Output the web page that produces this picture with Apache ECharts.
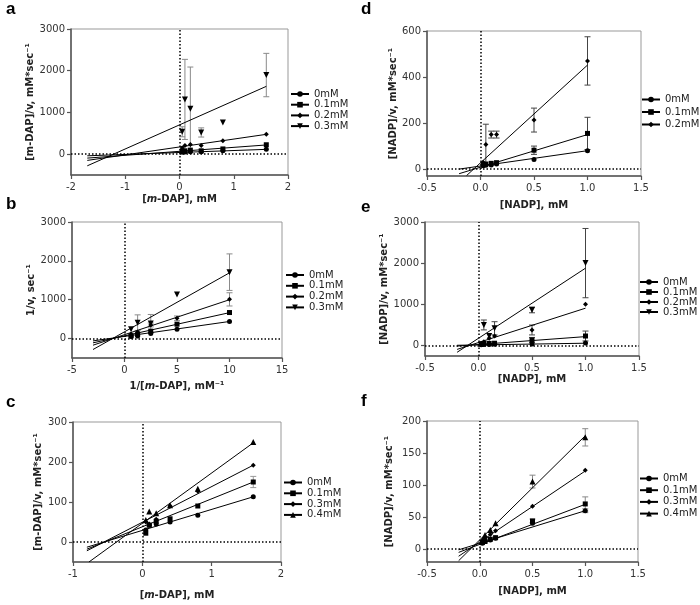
<!DOCTYPE html>
<html>
<head>
<meta charset="utf-8">
<script src="https://cdn.jsdelivr.net/npm/echarts@6/dist/echarts.min.js"></script>
<style>
  html, body { margin: 0; padding: 0; background: #fff; }
  #main { width: 700px; height: 605px; }
</style>
</head>
<body>
<div id="main"></div>
<script>
// substrate concentrations (x values)
const dapX = [0.05, 0.1, 0.2, 0.4, 0.8, 1.6]
const invDapX = [0.625, 1.25, 2.5, 5, 10]
const nadpX = [0.025, 0.05, 0.1, 0.15, 0.5, 1.0]

// tick labels
const dapTicks = [-2, -1, 0, 1, 2]
const invDapTicks = [-5, 0, 5, 10, 15]
const dapTicksC = [-1, 0, 1, 2]
const nadpTicks = [-0.5, 0, 0.5, 1, 1.5]
const bigTicks = [0, 1000, 2000, 3000]
const cTicks = [0, 100, 200, 300]
const dTicks = [0, 200, 400, 600]
const fTicks = [0, 50, 100, 150, 200]

// legend names
const namesA = ['0mM', '0.1mM', '0.2mM', '0.3mM']
const namesC = ['0mM', '0.1mM', '0.3mM', '0.4mM']
const namesD = ['0mM', '0.1mM', '0.2mM']

// panel a: [m-DAP]/v vs [m-DAP]
const a0 = [45, 50, 56, 60, 80, 118]
const a1 = [70, 80, 96, 80, 125, 225]
const a2 = [150, 210, 230, 210, 320, 475]
const a3 = [536, 1312, 1088, 520, 760, 1896]
const aSd3 = [120, 960, 1000, 110, null, 520]
const aFit = [[-1.7, -40, 1.6, 115], [-1.7, -95, 1.6, 220], [-1.7, -150, 1.6, 475], [-1.7, -280, 1.6, 1625]]

// panel b: 1/v vs 1/[m-DAP]
const b0 = [51, 68, 128, 240, 440]
const b1 = [68, 111, 190, 370, 670]
const b2 = [111, 171, 350, 521, 1009]
const b3 = [239, 410, 390, 1137, 1709]
const bSd2 = [null, null, 50, 60, 170]
const bSd3 = [null, 200, 230, null, 470]
const bFit = [[-3, -60, 10, 440], [-3, -110, 10, 667], [-3, -170, 10, 1000], [-3, -282, 10, 1692]]

// panel c: [m-DAP]/v vs [m-DAP]
const c0 = [30, 42, 45, 50, 67, 113]
const c1 = [22, 42, 52, 58, 90, 150]
const c2 = [50, 45, 57, 90, 127, 192]
const c3 = [55, 76, 72, 92, 133, 250]
const cSd1 = [null, null, null, null, null, 14]
const cFit = [[-0.8, -13, 1.6, 113], [-0.8, -18, 1.6, 150], [-0.8, -22, 1.6, 192], [-0.77, -50, 1.6, 248]]

// panel d: [NADP]/v vs [NADP]
const d0 = [15, 17, 18, 22, 42, 80]
const d1 = [20, 22, 25, 28, 82, 155]
const d2 = [30, 107, 150, 150, 213, 470]
const dSd1 = [null, null, null, null, 18, 70]
const dSd2 = [null, 88, 15, 15, 52, 105]
const dFit = [[-0.2, 0, 1.0, 80], [-0.2, -20, 1.0, 150], [-0.13, -28, 1.0, 452]]

// panel e: [NADP]/v vs [NADP]
const e0 = [25, 28, 30, 32, 40, 65]
const e1 = [40, 50, 55, 60, 140, 235]
const e2 = [60, 97, 178, 235, 381, 1005]
const e3 = [null, 503, 235, 422, 868, 2003]
const eSd1 = [null, null, null, null, 60, 120]
const eSd2 = [null, null, null, null, 120, null]
const eSd3 = [null, 120, null, 160, 70, 840]
const eFit = [[-0.2, 10, 1.0, 60], [-0.2, -10, 1.0, 220], [-0.2, -90, 1.0, 910], [-0.2, -160, 1.0, 1880]]

// panel f: [NADP]/v vs [NADP]
const f0 = [9.4, 12, 14.5, 17, 40.5, 60]
const f1 = [10.4, 12, 15.6, 18, 44, 70.6]
const f2 = [13, 17, 23, 28.6, 67, 123]
const f3 = [14.5, 22, 30, 40.5, 105.5, 174.5]
const fSd0 = [null, null, null, null, null, 3]
const fSd1 = [null, null, null, null, 3, 11]
const fSd3 = [null, null, null, null, 10, 13.5]
const fFit = [[-0.2, -1, 1.0, 60], [-0.2, -5, 1.0, 70], [-0.2, -11, 1.0, 122], [-0.2, -18, 1.0, 177]]

const FONT = 'DejaVu Sans'
const DOWN = { symbol: 'triangle', rotate: 180, size: 6 }
const CIRC = { symbol: 'circle', rotate: 0, size: 5 }
const SQR = { symbol: 'rect', rotate: 0, size: 5 }
const DIA = { symbol: 'diamond', rotate: 0, size: 5 }
const UP = { symbol: 'triangle', rotate: 0, size: 6 }

const dapName = '[{i|m}-DAP], mM'
const nadpName = '[NADP], mM'

const panels = [
  { id: 'a', grid: { left: 71, top: 29, width: 217, height: 146 }, x: [-2, 2], xTicks: dapTicks, xDec: 0,
    y: [-500, 3000], yTicks: bigTicks, xs: dapX, ys: [a0, a1, a2, a3], sds: [null, null, null, aSd3], fits: aFit,
    names: namesA, syms: [CIRC, SQR, DIA, DOWN], xName: dapName, xGap: 19, yName: '[m-DAP]/v, mM*sec⁻¹', yGap: 33,
    leg: [290, 89, 0.7], errColor: '#8a8a8a' },
  { id: 'b', grid: { left: 72, top: 222, width: 210, height: 136 }, x: [-5, 15], xTicks: invDapTicks, xDec: 0,
    y: [-500, 3000], yTicks: bigTicks, xs: invDapX, ys: [b0, b1, b2, b3], sds: [null, null, bSd2, bSd3], fits: bFit,
    names: namesA, syms: [CIRC, SQR, DIA, DOWN], xName: '1/[{i|m}-DAP], mM⁻¹', xGap: 23, yName: '1/v, sec⁻¹', yGap: 33,
    leg: [285, 270, 0.8], errColor: '#8a8a8a' },
  { id: 'c', grid: { left: 73, top: 422, width: 208, height: 140 }, x: [-1, 2], xTicks: dapTicksC, xDec: 0,
    y: [-50, 300], yTicks: cTicks, xs: dapX, ys: [c0, c1, c2, c3], sds: [null, cSd1, null, null], fits: cFit,
    names: namesC, syms: [CIRC, SQR, DIA, UP], xName: dapName, xGap: 28, yName: '[m-DAP]/v, mM*sec⁻¹', yGap: 30,
    leg: [283, 477.5, 0.8], errColor: '#999' },
  { id: 'd', grid: { left: 427, top: 31, width: 214, height: 145 }, x: [-0.5, 1.5], xTicks: nadpTicks, xDec: 1,
    y: [-30, 600], yTicks: dTicks, xs: nadpX, ys: [d0, d1, d2], sds: [null, dSd1, dSd2], fits: dFit,
    names: namesD, syms: [CIRC, SQR, DIA], xName: nadpName, xGap: 24, yName: '[NADP]/v, mM*sec⁻¹', yGap: 27,
    leg: [641, 94.5, 2.5], errColor: '#444' },
  { id: 'e', grid: { left: 425, top: 222, width: 214, height: 134 }, x: [-0.5, 1.5], xTicks: nadpTicks, xDec: 1,
    y: [-250, 3000], yTicks: bigTicks, xs: nadpX, ys: [e0, e1, e2, e3], sds: [null, eSd1, eSd2, eSd3], fits: eFit,
    names: namesA, syms: [CIRC, SQR, DIA, DOWN], xName: nadpName, xGap: 18, yName: '[NADP]/v, mM*sec⁻¹', yGap: 33,
    leg: [639, 277, 0], errColor: '#444' },
  { id: 'f', grid: { left: 427, top: 421, width: 211, height: 141 }, x: [-0.5, 1.5], xTicks: nadpTicks, xDec: 1,
    y: [-20, 200], yTicks: fTicks, xs: nadpX, ys: [f0, f1, f2, f3], sds: [fSd0, fSd1, null, fSd3], fits: fFit,
    names: namesC, syms: [CIRC, SQR, DIA, UP], xName: nadpName, xGap: 24, yName: '[NADP]/v, mM*sec⁻¹', yGap: 33,
    leg: [639, 473.5, 1.7], errColor: '#888' }
]

const axisLine = { show: true, onZero: false, lineStyle: { color: '#555', width: 1.5 } }
const tickStyle = { show: true, length: 4, lineStyle: { color: '#555', width: 1.2 } }

function errorRenderer(color) {
  return function (params, api) {
    const x = api.value(0)
    const lo = api.coord([x, api.value(1)])
    const hi = api.coord([x, api.value(2)])
    const w = 3
    const st = { stroke: color, lineWidth: 1 }
    return {
      type: 'group',
      children: [
        { type: 'line', shape: { x1: lo[0], y1: lo[1], x2: hi[0], y2: hi[1] }, style: st },
        { type: 'line', shape: { x1: lo[0] - w, y1: lo[1], x2: lo[0] + w, y2: lo[1] }, style: st },
        { type: 'line', shape: { x1: hi[0] - w, y1: hi[1], x2: hi[0] + w, y2: hi[1] }, style: st }
      ]
    }
  }
}

const grid = [], xAxis = [], yAxis = [], series = [], legend = [], graphic = []

panels.forEach(function (p, i) {
  grid.push(Object.assign({ show: true, borderColor: '#999', borderWidth: 1 }, p.grid))
  xAxis.push({
    gridIndex: i, type: 'value', min: p.x[0], max: p.x[1],
    axisLine: axisLine, axisTick: Object.assign({ customValues: p.xTicks }, tickStyle),
    axisLabel: { customValues: p.xTicks, formatter: v => v.toFixed(p.xDec), fontSize: 10, color: '#333', fontFamily: FONT, margin: 7 },
    splitLine: { show: false },
    name: p.xName, nameLocation: 'middle', nameGap: p.xGap,
    nameTextStyle: { fontSize: 10, fontWeight: 'bold', color: '#222', fontFamily: FONT,
      rich: { i: { fontSize: 10, fontWeight: 'bold', fontStyle: 'italic', color: '#222', fontFamily: FONT } } }
  })
  yAxis.push({
    gridIndex: i, type: 'value', min: p.y[0], max: p.y[1],
    axisLine: axisLine, axisTick: Object.assign({ customValues: p.yTicks }, tickStyle),
    axisLabel: { customValues: p.yTicks, formatter: v => String(v), fontSize: 10, color: '#333', fontFamily: FONT, margin: 6 },
    splitLine: { show: false },
    name: p.yName, nameLocation: 'middle', nameGap: p.yGap,
    nameTextStyle: { fontSize: 10, fontWeight: 'bold', color: '#222', fontFamily: FONT }
  })

  p.ys.forEach(function (ys, k) {
    const sd = p.sds[k]
    const sym = p.syms[k]
    const nm = p.id + '|' + p.names[k]
    if (sd) {
      const err = []
      sd.forEach(function (s, j) {
        if (s != null && ys[j] != null) err.push([p.xs[j], ys[j] - s, ys[j] + s])
      })
      series.push({
        type: 'custom', xAxisIndex: i, yAxisIndex: i, data: err, silent: true, z: 1,
        encode: { x: 0, y: [1, 2] }, renderItem: errorRenderer(p.errColor)
      })
    }
    const f = p.fits[k]
    series.push({
      type: 'line', name: nm, xAxisIndex: i, yAxisIndex: i, z: 2,
      data: [[f[0], f[1]], [f[2], f[3]]],
      symbol: sym.symbol, symbolRotate: sym.rotate, showSymbol: false, silent: true,
      lineStyle: { color: '#000', width: 1 }, itemStyle: { color: '#000' }
    })
    const pts = []
    ys.forEach(function (v, j) { if (v != null) pts.push([p.xs[j], v]) })
    const sc = {
      type: 'scatter', xAxisIndex: i, yAxisIndex: i, z: 3, data: pts,
      symbol: sym.symbol, symbolRotate: sym.rotate, symbolSize: sym.size,
      itemStyle: { color: '#000', opacity: 1 }, silent: true
    }
    if (k === 0) {
      sc.markLine = {
        silent: true, symbol: ['none', 'none'], label: { show: false },
        lineStyle: { color: '#000', width: 1.5, type: [1.5, 2] },
        data: [{ xAxis: 0 }, { yAxis: 0 }]
      }
    }
    series.push(sc)
  })

  legend.push({
    orient: 'vertical', left: p.leg[0], top: p.leg[1], itemGap: p.leg[2],
    itemWidth: 18, itemHeight: 7, padding: 0, selectedMode: false,
    data: p.names.map(n => p.id + '|' + n),
    formatter: n => n.split('|')[1],
    textStyle: { fontSize: 10, lineHeight: 9, color: '#222', fontFamily: FONT }
  })
})

const letters = [['a', 6, 1], ['b', 6, 196], ['c', 6, 394], ['d', 361, 1], ['e', 361, 199], ['f', 361, 393]]
letters.forEach(function (l) {
  graphic.push({ type: 'text', left: l[1], top: l[2], style: { text: l[0], font: 'bold 17px "Liberation Sans"', fill: '#000' } })
})

const chart = echarts.init(document.getElementById('main'))
chart.setOption({
  animation: false,
  backgroundColor: '#fff',
  grid: grid, xAxis: xAxis, yAxis: yAxis, series: series, legend: legend, graphic: graphic
})
</script>
</body>
</html>
